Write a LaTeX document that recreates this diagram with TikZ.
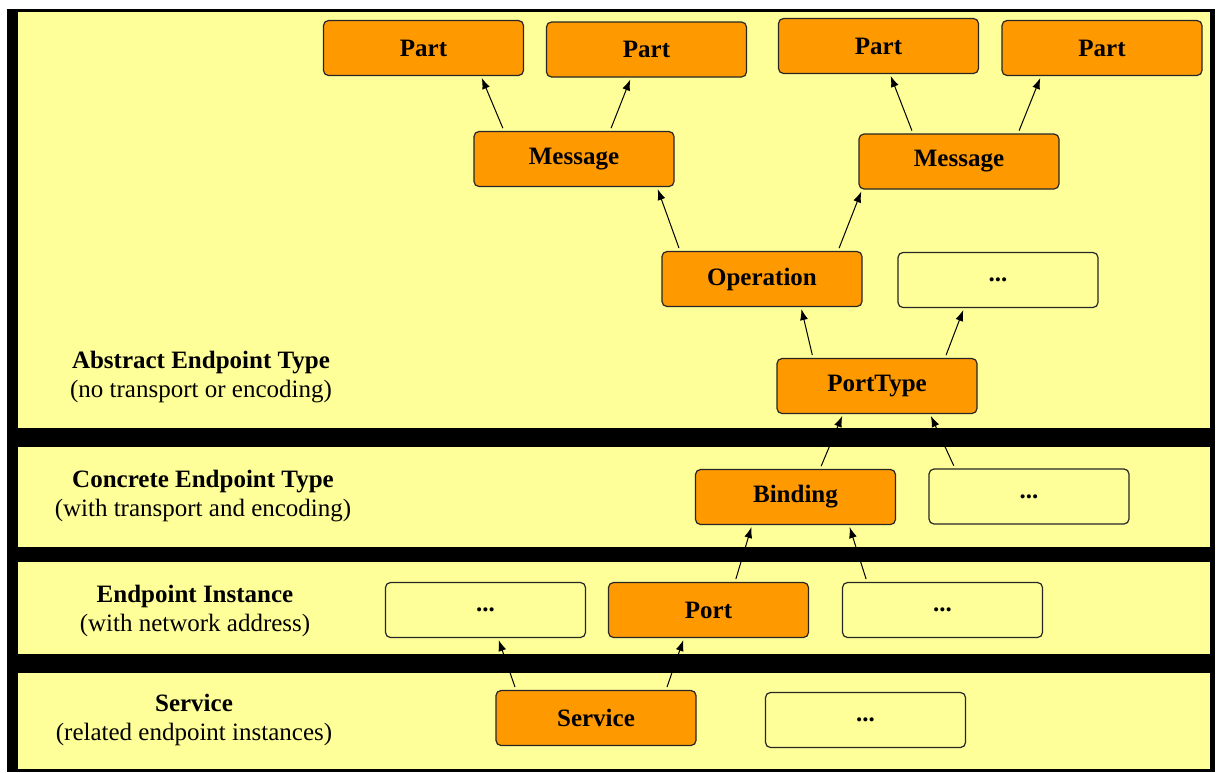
\documentclass[tikz,border=0pt]{standalone}
\usepackage{fontspec}
\setmainfont{Liberation Serif}
\usetikzlibrary{arrows.meta}
\definecolor{band}{HTML}{FFFF99}
\definecolor{box}{HTML}{FF9900}
\begin{document}
\begin{tikzpicture}[x=1pt,y=-1pt,
  elem/.style={draw=black!85,line width=1.2pt,rounded corners=5pt,fill=box,
    minimum width=200pt,minimum height=55pt,font=\fontsize{25}{28}\selectfont\bfseries},
  blank/.style={elem,fill=band},
  lbl/.style={align=center,font=\fontsize{25}{29}\selectfont},
  link/.style={-{Latex[length=11pt,width=8pt]},line width=1pt,shorten <=3pt,shorten >=2pt}
]
\useasboundingbox (0,0) rectangle (1219,772);
\fill (7,9) rectangle (1215,772);
\fill[band] (18,12) rectangle (1210,428);
\fill[band] (18,447) rectangle (1210,547);
\fill[band] (18,562) rectangle (1210,654);
\fill[band] (18,673) rectangle (1210,769);

% layer labels
\node[lbl] (l1) at (201,377) {\textbf{Abstract Endpoint Type}\\(no transport or encoding)};
\node[lbl] (l2) at (203,496) {\textbf{Concrete Endpoint Type}\\(with transport and encoding)};
\node[lbl] (l3) at (195,611) {\textbf{Endpoint Instance}\\(with network address)};
\node[lbl] (l4) at (194,720) {\textbf{Service}\\(related endpoint instances)};

\node[elem] (p1) at (423.5,48) {Part};
\node[elem] (p2) at (646.5,49.5) {Part};
\node[elem] (p3) at (878.5,46) {Part};
\node[elem] (p4) at (1102,48) {Part};
\node[elem] (m1) at (574,159) {Message};
\node[elem] (m2) at (959,161.5) {Message};
\node[elem] (op) at (762,279) {Operation};
\node[blank] (d1) at (998,280) {...};
\node[elem] (pt) at (877,386) {PortType};
\node[elem] (b) at (795.5,497) {Binding};
\node[blank] (d2) at (1029,496.5) {...};
\node[blank] (d3) at (485.5,610) {...};
\node[elem] (pr) at (708.5,610) {Port};
\node[blank] (d4) at (942.5,610) {...};
\node[elem] (s) at (596,718) {Service};
\node[blank] (d5) at (865.5,720) {...};

\draw[link] ([xshift=-70pt]m1.north) -- ([xshift=57.5pt]p1.south);
\draw[link] ([xshift=36pt]m1.north) -- ([xshift=-15.5pt]p2.south);
\draw[link] ([xshift=-46pt]m2.north) -- ([xshift=11.5pt]p3.south);
\draw[link] ([xshift=59pt]m2.north) -- ([xshift=-61pt]p4.south);
\draw[link] ([xshift=-82pt]op.north) -- ([xshift=83pt]m1.south);
\draw[link] ([xshift=76pt]op.north) -- ([xshift=-97pt]m2.south);
\draw[link] ([xshift=-64pt]pt.north) -- ([xshift=39pt]op.south);
\draw[link] ([xshift=68pt]pt.north) -- ([xshift=-34pt]d1.south);
\draw[link] ([xshift=24.5pt]b.north) -- ([xshift=-34pt]pt.south);
\draw[link] ([xshift=-74pt]d2.north) -- ([xshift=53pt]pt.south);
\draw[link] ([xshift=26.5pt]pr.north) -- ([xshift=-43.5pt]b.south);
\draw[link] ([xshift=-75.5pt]d4.north) -- ([xshift=53.5pt]b.south);
\draw[link] ([xshift=-80pt]s.north) -- ([xshift=12.5pt]d3.south);
\draw[link] ([xshift=70pt]s.north) -- ([xshift=-24.5pt]pr.south);
\end{tikzpicture}
\end{document}
